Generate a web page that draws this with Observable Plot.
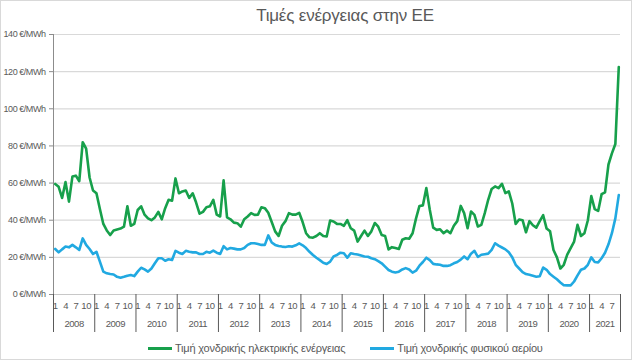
<!DOCTYPE html>
<html><head><meta charset="utf-8">
<script src="https://cdn.jsdelivr.net/npm/d3@7"></script>
<script src="https://cdn.jsdelivr.net/npm/@observablehq/plot@0.6"></script>
<style>
body{margin:0;background:#fff;}
#wrap{position:relative;width:632px;height:360px;overflow:hidden;font-family:"Liberation Sans",Arial,sans-serif;color:#595959;background:#fff;}
#frame{position:absolute;left:0;top:0;width:630px;height:358px;border:1px solid #d9d9d9;pointer-events:none;}
#title{position:absolute;top:6px;left:345px;transform:translateX(-50%);font-size:17px;white-space:nowrap;color:#595959;letter-spacing:-0.2px;}
#chart{position:absolute;left:0;top:0;}
#chart g[aria-label="y-axis tick label"] text{letter-spacing:-0.45px;}
#chart g[aria-label="x-axis tick label"] text{letter-spacing:-0.5px;}
#legend{position:absolute;top:342px;left:148px;display:flex;align-items:center;font-size:11px;letter-spacing:-0.2px;white-space:nowrap;}
.sw{display:inline-block;width:24px;height:3px;margin-right:3px;}
.item{display:flex;align-items:center;margin-right:25px;}
</style></head>
<body>
<div id="wrap">
  <div id="title">Τιμές ενέργειας στην ΕΕ</div>
  <div id="chart"></div>
  <div id="legend"></div>
  <div id="frame"></div>
</div>
<script>
const years = [2008,2009,2010,2011,2012,2013,2014,2015,2016,2017,2018,2019,2020,2021];
const monthLabels = [1,4,7,10];
const yTicks = [0,20,40,60,80,100,120,140];
const seriesNames = ["Τιμή χονδρικής ηλεκτρικής ενέργειας","Τιμή χονδρικής φυσικού αερίου"];
const seriesColors = ["#17a04b","#21a9e1"];

// Monthly wholesale electricity price (€/MWh), Jan 2008 – Sep 2021
const electricity = [
  59.5,58,52,60.5,50,63.5,64,61,82,78.5,63,56,
  54.5,46,38,34.5,32,34.5,35,35.5,36.5,47.5,37,38,
  45.5,47.5,43,41,40,41.5,44.5,40.5,46.5,51,50.5,62.5,
  54.5,55.5,56,52,54.5,49.5,43.5,44.5,47,47.5,51,43,
  42,61.5,41.5,40.5,38.7,38.4,36.5,40.5,42,43.8,42.9,43,
  47,46.5,44,39,34,31.5,37,39.5,43.8,43,43,44,
  39,33,30.8,30.6,31.5,33,31.5,31.2,39.8,39.3,38,38,
  37,40,35.7,34.4,28.5,31.5,34.4,31.5,34,38.5,36.5,32,
  31.5,24.3,25.5,25,24.5,29.5,30.3,30,33,41,47.7,48,
  57.3,45.6,36,34.8,35.1,33,34.4,33,37,39.5,47.7,43.8,
  35.7,44.7,42.9,36.6,37.5,43.8,51,56.8,58.2,57.3,59.6,54.6,
  55.5,49,38,40.4,40,33.5,39.5,37.3,36,39.5,42.7,35.5,
  34,24,20,14,16,21.5,25,28.5,37.5,31.5,33,40,
  53,46,45,54,55,70,76,81,122.5
];
// Monthly wholesale natural gas price (€/MWh), Jan 2008 – Sep 2021
const gas = [
  24.5,22.7,24.3,25.8,25.4,26.7,25.4,24,30.2,26.7,24.5,21.8,
  23,17.7,12.3,11.4,11,10.8,9.5,9,9.5,10.1,10.5,9.9,
  12.3,14.4,13.5,12.3,14,16.8,19.5,19.5,18.2,19,18.6,23.5,
  22.5,21.8,23.5,23,22.7,22.7,21.8,21.8,23,22.5,23.6,22.5,
  21.8,26,24.3,25,24.7,24.3,24.3,25,26.7,27.6,27.6,27.2,
  26.7,26.7,31.8,28,26.7,26.1,25.8,25.6,26,25.8,26.5,27.5,
  26.5,25,23,21.3,19.8,18.5,17.1,16.4,17.7,20.5,21.3,22.5,
  22.2,19.8,22.2,21.8,21.5,21,20.5,20.3,19.5,19,18,16.8,
  15,13.2,12.3,11.9,12.3,13.5,14.2,13.5,11.8,12.8,15.5,17.5,
  19.8,18.5,16.5,16.2,16,15.4,15.4,15.8,16.8,17.5,18.8,20.5,
  19,22,23.5,20.2,21.4,21.7,22,24,27.6,26.3,25.3,24.3,
  22.7,20,16,14,12,11,10.6,10.1,9.6,9.8,14.5,13.3,
  11,9.6,8.2,6.5,5,4.9,4.9,7,10.3,13.3,14,16,
  20,17.5,17.3,19.5,22.5,27,33,41,53.5
];

const N = electricity.length;
const rows = d3.range(N).map(i => ({pos: i + 0.5, elec: electricity[i], gas: gas[i]}));
const yearBounds = years.map((y, k) => k * 12).concat([N]);
const monthTicks = [];
const monthText = new Map();
years.forEach((y, k) => monthLabels.forEach(m => {
  const idx = k * 12 + m - 1;
  if (idx < N) { monthTicks.push(idx + 0.5); monthText.set(idx + 0.5, String(m)); }
}));
const yearMids = years.map((y, k) => (k * 12 + Math.min(k * 12 + 12, N)) / 2);
const yearText = new Map(years.map((y, k) => [yearMids[k], String(y)]));

const font = {fontFamily: '"Liberation Sans", Arial, sans-serif', fontSize: "9.5px", color: "#595959", background: "transparent", overflow: "visible"};

const chart = Plot.plot({
  width: 632, height: 340,
  marginLeft: 53, marginRight: 12, marginTop: 34, marginBottom: 46,
  x: {domain: [0, N], axis: null, label: null},
  y: {domain: [0, 140], axis: null, label: null},
  style: font,
  marks: [
    Plot.gridY(yTicks.filter(d => d > 0), {stroke: "#d9d9d9", strokeOpacity: 1, strokeWidth: 1.2}),
    Plot.ruleY([0], {stroke: "#c8c8c8"}),
    Plot.ruleX([0], {stroke: "#8c8c8c"}),
    Plot.axisY(yTicks, {tickSize: 4, tickPadding: 4, stroke: "#8c8c8c", fill: "#595959", fontSize: 9, tickFormat: d => `${d} €/MWh`, label: null}),
    Plot.axisX(yearBounds, {tickSize: 38, stroke: "#595959", tickFormat: () => "", label: null}),
    Plot.axisX(monthTicks, {tickSize: 0, tickPadding: 8, fill: "#595959", tickFormat: d => monthText.get(d), label: null}),
    Plot.axisX(yearMids, {tickSize: 0, tickPadding: 26, fill: "#595959", tickFormat: d => yearText.get(d), label: null}),
    Plot.line(rows, {x: "pos", y: "elec", stroke: seriesColors[0], strokeWidth: 2.6}),
    Plot.line(rows, {x: "pos", y: "gas", stroke: seriesColors[1], strokeWidth: 2.6})
  ]
});
document.getElementById("chart").appendChild(chart);

const legend = document.getElementById("legend");
seriesNames.forEach((name, k) => {
  const item = document.createElement("div");
  item.className = "item";
  const sw = document.createElement("span");
  sw.className = "sw";
  sw.style.background = seriesColors[k];
  const t = document.createElement("span");
  t.textContent = name;
  item.appendChild(sw); item.appendChild(t);
  legend.appendChild(item);
});
</script>
</body></html>
